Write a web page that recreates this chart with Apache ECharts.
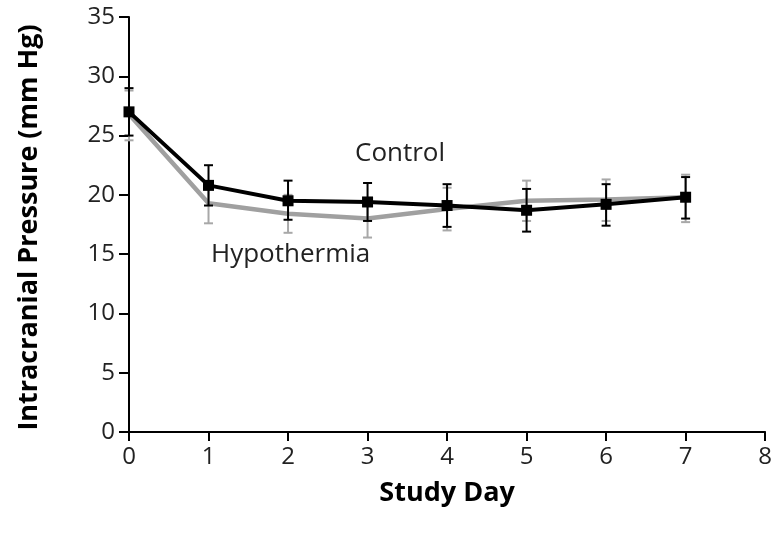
<!DOCTYPE html>
<html><head><meta charset="utf-8">
<script src="https://cdn.jsdelivr.net/npm/echarts@6/dist/echarts.min.js"></script>
<style>html,body{margin:0;padding:0;background:#fff}#c{width:775px;height:535px}</style>
</head><body><div id="c"></div>
<script>
var days = [0,1,2,3,4,5,6,7];
var controlMean = [27.0,20.8,19.5,19.4,19.1,18.7,19.2,19.8];
var controlLow  = [25.0,19.1,17.9,17.8,17.3,16.9,17.4,18.0];
var controlHigh = [29.0,22.5,21.2,21.0,20.9,20.5,20.9,21.5];
var hypoMean = [26.8,19.3,18.4,18.0,18.8,19.5,19.6,19.8];
var hypoLow  = [24.6,17.6,16.8,16.4,17.0,17.8,17.8,17.7];
var hypoHigh = [28.8,21.0,20.0,19.6,20.6,21.2,21.3,21.7];
var yTicks = [0,5,10,15,20,25,30,35];
var xTicks = [0,1,2,3,4,5,6,7,8];

var FONT = 'Open Sans';
var chart = echarts.init(document.getElementById('c'));

function errData(low, high){ return days.map(function(d,i){return [d, low[i], high[i]];}); }
function errSeries(low, high, color, z){
  return {
    type:'custom', z:z, silent:true,
    data: errData(low, high),
    encode:{x:0, y:[1,2]},
    renderItem: function(params, api){
      var x = api.value(0);
      var lo = api.coord([x, api.value(1)]);
      var hi = api.coord([x, api.value(2)]);
      var w = 4.5;
      var st = {stroke:color, lineWidth:2};
      return {type:'group', children:[
        {type:'line', shape:{x1:lo[0],y1:lo[1],x2:hi[0],y2:hi[1]}, style:st},
        {type:'line', shape:{x1:lo[0]-w,y1:lo[1],x2:lo[0]+w,y2:lo[1]}, style:st},
        {type:'line', shape:{x1:hi[0]-w,y1:hi[1],x2:hi[0]+w,y2:hi[1]}, style:st}
      ]};
    }
  };
}

chart.setOption({
  animation:false,
  grid:{left:129, right:8, top:17, bottom:103},
  xAxis:{
    type:'value', min:0, max:8, interval:1,
    axisLine:{show:true, lineStyle:{color:'#000', width:2}},
    axisTick:{show:true, length:9, lineStyle:{color:'#000', width:2}},
    axisLabel:{color:'#222', fontFamily:FONT, fontSize:24, margin:13,
      formatter:function(v){return xTicks.indexOf(v)>=0?String(v):'';}},
    splitLine:{show:false},
    name:'Study Day', nameLocation:'middle', nameGap:48,
    nameTextStyle:{fontFamily:FONT, fontSize:27, fontWeight:'bold', color:'#000'}
  },
  yAxis:{
    type:'value', min:0, max:35, interval:5,
    axisLine:{show:true, lineStyle:{color:'#000', width:2}},
    axisTick:{show:true, length:10, lineStyle:{color:'#000', width:2}},
    axisLabel:{color:'#222', fontFamily:FONT, fontSize:24, margin:14,
      formatter:function(v){return yTicks.indexOf(v)>=0?String(v):'';}},
    splitLine:{show:false},
    name:'Intracranial Pressure (mm Hg)', nameLocation:'middle', nameGap:86,
    nameTextStyle:{fontFamily:FONT, fontSize:27, fontWeight:'bold', color:'#000', padding:[0,0,0,-6]}
  },
  series:[
    errSeries(hypoLow, hypoHigh, '#a8a8a8', 1),
    {type:'line', z:2, data: days.map(function(d,i){return [d,hypoMean[i]];}),
     symbol:'none', lineStyle:{color:'#a0a0a0', width:4.5}},
    errSeries(controlLow, controlHigh, '#000', 3),
    {type:'line', z:4, data: days.map(function(d,i){return [d,controlMean[i]];}),
     symbol:'rect', symbolSize:11, itemStyle:{color:'#000'}, lineStyle:{color:'#000', width:4}}
  ],
  graphic:[
    {type:'text', left:355, top:141, style:{text:'Control', fontFamily:FONT, fontSize:26, fill:'#222'}},
    {type:'text', left:211, top:242, style:{text:'Hypothermia', fontFamily:FONT, fontSize:26, fill:'#222'}}
  ]
});
</script></body></html>
